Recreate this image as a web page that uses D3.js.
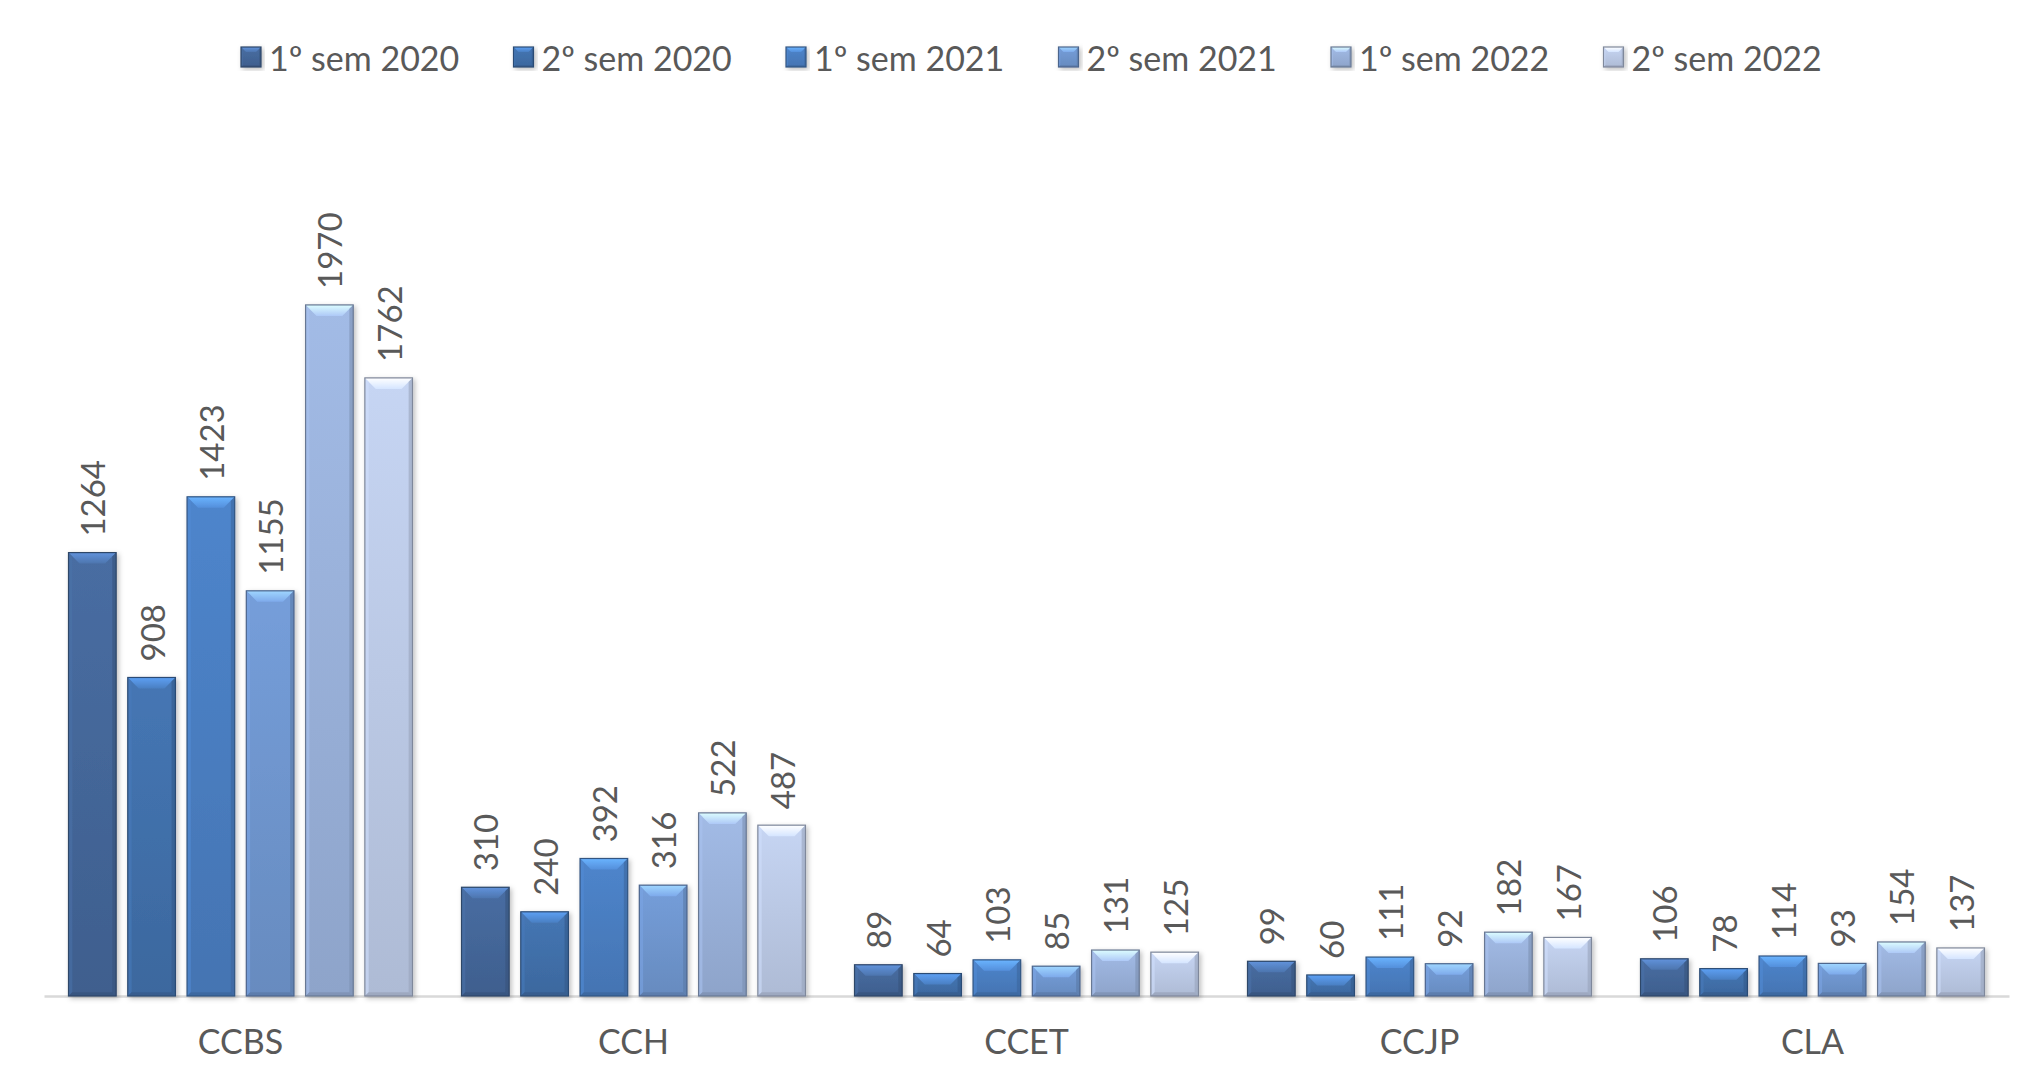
<!DOCTYPE html>
<html><head><meta charset="utf-8">
<script src="https://cdn.jsdelivr.net/npm/d3@7"></script>
<style>
body{margin:0;background:#fff}
text{font-family:Lato,'Open Sans',sans-serif;fill:#595959}
</style>
</head><body>
<svg id="c" width="2022" height="1076"></svg>
<script>
const categories = ["CCBS","CCH","CCET","CCJP","CLA"];
const seriesNames = ["1º sem 2020","2º sem 2020","1º sem 2021","2º sem 2021","1º sem 2022","2º sem 2022"];
const sem1_2020 = [1264,310,89,99,106];
const sem2_2020 = [908,240,64,60,78];
const sem1_2021 = [1423,392,103,111,114];
const sem2_2021 = [1155,316,85,92,93];
const sem1_2022 = [1970,522,131,182,154];
const sem2_2022 = [1762,487,125,167,137];
const seriesValues = [sem1_2020,sem2_2020,sem1_2021,sem2_2021,sem1_2022,sem2_2022];
const colors = ["#44679a","#4170ab","#4a7ec1","#6f96cf","#9ab1da","#bccae6"];

const svg = d3.select("#c");
const x0 = d3.scaleBand().domain(categories).range([44,2009]).padding(0);
const x1 = d3.scaleBand().domain(d3.range(seriesNames.length)).range([24.5, x0.bandwidth()-24.5]).paddingInner(0.196).paddingOuter(0);
const y = d3.scaleLinear().domain([0,2500]).range([996,119]);

const defs = svg.append("defs");
const f = defs.append("filter").attr("id","sh").attr("x","-20%").attr("y","-20%").attr("width","140%").attr("height","140%");
f.append("feDropShadow").attr("dx",2).attr("dy",2).attr("stdDeviation",2.5).attr("flood-color","#000").attr("flood-opacity",0.25);
colors.forEach((c,i)=>{
  const g = defs.append("linearGradient").attr("id","g"+i).attr("x1",0).attr("x2",0).attr("y1",0).attr("y2",1);
  g.append("stop").attr("offset","0%").attr("stop-color",d3.color(c).brighter(0.15));
  g.append("stop").attr("offset","100%").attr("stop-color",d3.color(c).darker(0.22));
  const t = defs.append("linearGradient").attr("id","t"+i).attr("x1",0).attr("x2",0).attr("y1",0).attr("y2",1);
  t.append("stop").attr("offset","0%").attr("stop-color",d3.color(c).brighter(1.0));
  t.append("stop").attr("offset","100%").attr("stop-color",d3.color(c).brighter(0.35));
});

function drawBevelBar(g, x, yTop, w, h, i, bmax){
  const c = d3.color(colors[i]);
  const b = Math.min(bmax, h/2, w/2);
  const grp = g.append("g").attr("filter","url(#sh)");
  grp.append("rect").attr("x",x).attr("y",yTop).attr("width",w).attr("height",h)
    .attr("fill","url(#g"+i+")");
  grp.append("path").attr("d",`M${x},${yTop}L${x+w},${yTop}L${x+w-b},${yTop+b}L${x+b},${yTop+b}Z`)
    .attr("fill","url(#t"+i+")");
  grp.append("path").attr("d",`M${x},${yTop}L${x+b*0.35},${yTop+b*0.35}L${x+b*0.35},${yTop+h-b*0.35}L${x},${yTop+h}Z`)
    .attr("fill",c.brighter(0.25)).attr("opacity",0.6);
  grp.append("path").attr("d",`M${x+w},${yTop}L${x+w-b*0.35},${yTop+b*0.35}L${x+w-b*0.35},${yTop+h-b*0.35}L${x+w},${yTop+h}Z`)
    .attr("fill",c.darker(0.6)).attr("opacity",0.6);
  grp.append("path").attr("d",`M${x},${yTop+h}L${x+b*0.35},${yTop+h-b*0.35}L${x+w-b*0.35},${yTop+h-b*0.35}L${x+w},${yTop+h}Z`)
    .attr("fill",c.darker(0.7)).attr("opacity",0.6);
  grp.append("rect").attr("x",x).attr("y",yTop).attr("width",w).attr("height",h)
    .attr("fill","none").attr("stroke",c.darker(1.1)).attr("stroke-width",1.2);
}

const ax = svg.append("g").attr("transform","translate(0,"+y(0)+")")
  .call(d3.axisBottom(x0).tickSize(0).tickSizeOuter(0).tickPadding(34));
ax.select(".domain").attr("stroke","#d9d9d9").attr("stroke-width",2.5);
ax.selectAll("text").attr("font-size",34).attr("fill","#595959").attr("font-family","Lato,'Open Sans',sans-serif");

const barsG = svg.append("g");
categories.forEach((cat,ci)=>{
  seriesValues.forEach((vals,si)=>{
    const v = vals[ci];
    drawBevelBar(barsG, x0(cat)+x1(si), y(v), x1.bandwidth(), y(0)-y(v), si, 11);
  });
});
const lab = svg.append("g");
categories.forEach((cat,ci)=>{
  seriesValues.forEach((vals,si)=>{
    const v = vals[ci];
    const cx = x0(cat)+x1(si)+x1.bandwidth()/2;
    lab.append("text").attr("transform",`translate(${cx},${y(v)-16}) rotate(-90)`)
      .attr("text-anchor","start").attr("dominant-baseline","central")
      .attr("font-size",33).text(v);
  });
});

const leg = svg.append("g").attr("transform","translate(241,57)");
const step = 272.5;
seriesNames.forEach((n,i)=>{
  const gi = leg.append("g").attr("transform",`translate(${i*step},0)`);
  drawBevelBar(gi, 0, -10, 20, 20, i, 5);
  gi.append("text").attr("x",28).attr("y",0).attr("dominant-baseline","central").attr("font-size",34).text(n);
});
</script>
</body></html>
